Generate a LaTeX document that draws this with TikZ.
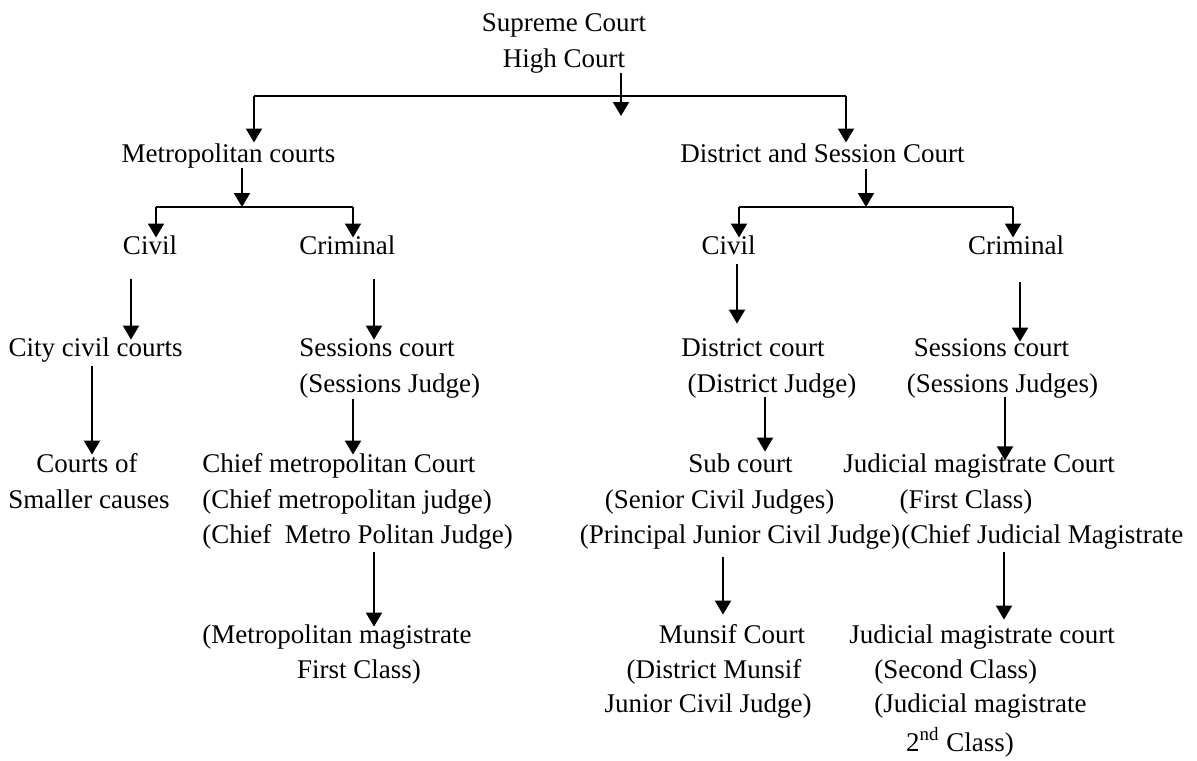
\documentclass[tikz,border=0pt]{standalone}
\usepackage{fontspec}
\setmainfont{Liberation Serif}
\usetikzlibrary{arrows.meta}
\tikzset{lbl/.style={inner sep=0pt,anchor=base,text height=0.7em,text depth=0.22em,font=\fontsize{13.5}{17}\selectfont}}
\tikzset{arr/.style={line width=1pt,-{Triangle[length=7pt,width=8pt]}}}
\tikzset{bar/.style={line width=1pt}}

\begin{document}
\begin{tikzpicture}[x=0.5pt,y=-0.5pt]
    \useasboundingbox (0,0) rectangle (1197,760);
    % top
    \node[lbl] (sc) at (564,32) {Supreme Court};
    \node[lbl] (hc) at (564,67) {High Court};
    \node[lbl] (mc) at (228.5,162) {Metropolitan courts};
    \node[lbl] (dsc) at (822.5,162) {District and Session Court};
    \node[lbl] (civ1) at (150,254) {Civil};
    \node[lbl,anchor=base west] (crm1) at (299,254) {Criminal};
    \node[lbl] (civ2) at (728.5,254) {Civil};
    \node[lbl] (crm2) at (1016,254) {Criminal};
    % metropolitan side
    \node[lbl] (ccc) at (95.5,356) {City civil courts};
    \node[lbl,anchor=base west] (ses1a) at (299,356) {Sessions court};
    \node[lbl,anchor=base west] (ses1b) at (299,392) {(Sessions Judge)};
    \node[lbl] (cos1) at (87,472) {Courts of};
    \node[lbl] (cos2) at (89,508) {Smaller causes};
    \node[lbl,anchor=base west] (cmc1) at (202,472) {Chief metropolitan Court};
    \node[lbl,anchor=base west] (cmc2) at (202,508) {(Chief metropolitan judge)};
    \node[lbl,anchor=base west] (cmc3) at (202,543) {(Chief\ \ Metro Politan Judge)};
    \node[lbl,anchor=base west] (mm1) at (202,643) {(Metropolitan magistrate};
    \node[lbl] (mm2) at (359,678) {First Class)};
    % district side
    \node[lbl] (dc1) at (753,356) {District court};
    \node[lbl] (dc2) at (772,392) {(District Judge)};
    \node[lbl] (ses2a) at (991.5,356) {Sessions court};
    \node[lbl] (ses2b) at (1002.5,392) {(Sessions Judges)};
    \node[lbl] (sub1) at (740.5,472) {Sub court};
    \node[lbl] (sub2) at (719.5,508) {(Senior Civil Judges)};
    \node[lbl,anchor=base east] (sub3) at (900.5,543) {(Principal Junior Civil Judge)};
    \node[lbl] (jm1a) at (979,472) {Judicial magistrate Court};
    \node[lbl] (jm1b) at (966,508) {(First Class)};
    \node[lbl,anchor=base west] (jm1c) at (901,543) {(Chief Judicial Magistrate};
    \node[lbl] (mun1) at (732,643) {Munsif Court};
    \node[lbl] (mun2) at (714,678) {(District Munsif};
    \node[lbl] (mun3) at (708,712) {Junior Civil Judge)};
    \node[lbl] (jm2a) at (982,643) {Judicial magistrate court};
    \node[lbl,anchor=base west] (jm2b) at (874,678) {(Second Class)};
    \node[lbl,anchor=base west] (jm2c) at (874,712) {(Judicial magistrate};
    \node[lbl] (jm2d) at (960,751) {2\textsuperscript{nd} Class)};

    % branch bars
    \coordinate (hcx) at (621,116);
    \coordinate (b1l) at (254,96);
    \coordinate (b1r) at (846,96);
    \coordinate (b2l) at (156,207);
    \coordinate (b2m) at (242,207);
    \coordinate (b2r) at (353,207);
    \coordinate (b3l) at (739,207);
    \coordinate (b3m) at (866,207);
    \coordinate (b3r) at (1013,207);
    \draw[bar] (b1l) -- (b1r);
    \draw[bar] (b2l) -- (b2r);
    \draw[bar] (b3l) -- (b3r);
    \draw[arr,shorten <=0.55pt] (hc.south -| hcx) -- (hcx);
    \draw[arr,shorten >=2.55pt] (b1l) -- (b1l |- mc.north);
    \draw[arr,shorten >=2.55pt] (b1r) -- (b1r |- dsc.north);
    \draw[arr,shorten <=0.55pt] (mc.south -| b2m) -- (b2m);
    \draw[arr,shorten <=1.05pt] (dsc.south -| b3m) -- (b3m);
    \draw[arr,shorten >=1.05pt] (b2l) -- (b2l |- civ1.north);
    \draw[arr,shorten >=1.05pt] (b2r) -- (b2r |- crm1.north);
    \draw[arr,shorten >=1.05pt] (b3l) -- (b3l |- civ2.north);
    \draw[arr,shorten >=1.05pt] (b3r) -- (b3r |- crm2.north);

    % arrow columns
    \coordinate (xccc) at (131,0);
    \coordinate (xses1) at (374,0);
    \coordinate (xdc) at (737,0);
    \coordinate (xses2) at (1020,0);
    \coordinate (xcos) at (92,0);
    \coordinate (xcmc) at (353,0);
    \coordinate (xsub) at (765,0);
    \coordinate (xjm1) at (1005,0);
    \coordinate (xmm) at (374,0);
    \coordinate (xmun) at (723,0);
    \coordinate (xjm2) at (1004,0);
    \draw[arr,shorten <=10pt,shorten >=1pt] (civ1.south -| xccc) -- (ccc.north -| xccc);
    \draw[arr,shorten <=10pt,shorten >=1pt] (crm1.south -| xses1) -- (ses1a.north -| xses1);
    \draw[arr,shorten <=2.5pt,shorten >=9pt] (civ2.south -| xdc) -- (dc1.north -| xdc);
    \draw[arr,shorten <=11.5pt] (crm2.south -| xses2) -- (ses2a.north -| xses2);
    \draw[arr,shorten <=2.5pt,shorten >=1.5pt] (ccc.south -| xcos) -- (cos1.north -| xcos);
    \draw[arr,shorten <=1pt,shorten >=1.5pt] (ses1b.south -| xcmc) -- (cmc1.north -| xcmc);
    \draw[arr,shorten >=3pt] (dc2.south -| xsub) -- (sub1.north -| xsub);
    \draw[arr,shorten >=-1.4pt] (ses2b.south -| xjm1) -- (jm1a.north -| xjm1);
    \draw[arr,shorten <=2pt,shorten >=1pt] (cmc3.south -| xmm) -- (mm1.north -| xmm);
    \draw[arr,shorten <=4.5pt,shorten >=7pt] (sub3.south -| xmun) -- (mun1.north -| xmun);
    \draw[arr,shorten <=2pt,shorten >=4.5pt] (jm1c.south -| xjm2) -- (jm2a.north -| xjm2);
\end{tikzpicture}
\end{document}
